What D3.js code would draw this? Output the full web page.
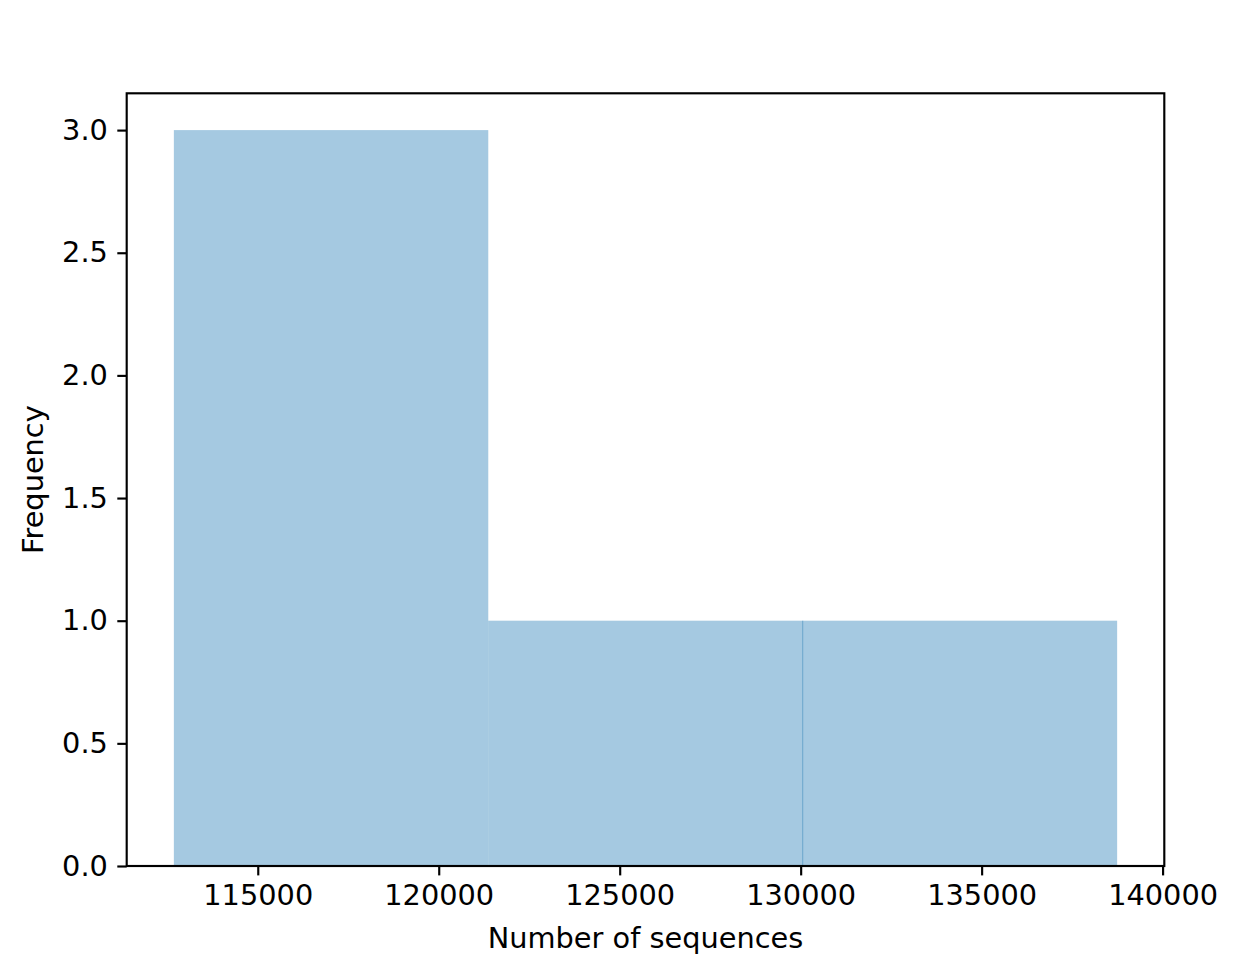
<!DOCTYPE html>
<html>
<head>
<meta charset="utf-8">
<script src="https://cdn.jsdelivr.net/npm/d3@7"></script>
<style>
  html, body { margin: 0; padding: 0; background: #fff; }
  svg text { font-family: "DejaVu Sans", sans-serif; fill: #000; }
</style>
</head>
<body>
<svg id="chart" width="1240" height="967"></svg>
<script>
// Histogram bin edges and counts
const binEdges = [112682, 121369, 130056, 138744];
const counts = [3, 1, 1];
const xTicks = [115000, 120000, 125000, 130000, 135000, 140000];
const yTicks = [0.0, 0.5, 1.0, 1.5, 2.0, 2.5, 3.0];
const xLabel = "Number of sequences";
const yLabel = "Frequency";

const svg = d3.select("#chart");
const L = 126.7, R = 1164.3, T = 93.3, B = 866;
const lw = 2.15, tickLen = 9.4, pad = 9.4, fs = 28.8;

const x = d3.scaleLinear().domain([111379, 140047]).range([L, R]);
const y = d3.scaleLinear().domain([0, 3.15]).range([B, T]);

const bins = counts.map((c, i) => ({ x0: binEdges[i], x1: binEdges[i + 1], c }));

svg.append("g").selectAll("rect").data(bins).join("rect")
  .attr("x", d => x(d.x0))
  .attr("width", d => x(d.x1) - x(d.x0))
  .attr("y", d => y(d.c))
  .attr("height", d => y(0) - y(d.c))
  .attr("fill", "#1f77b4")
  .attr("fill-opacity", 0.4);

// faint seam between equal-height adjacent bars
const seams = bins.slice(1).filter((d, i) => d.c === bins[i].c);
svg.append("g").selectAll("line").data(seams).join("line")
  .attr("x1", d => x(d.x0)).attr("x2", d => x(d.x0))
  .attr("y1", d => y(d.c)).attr("y2", y(0))
  .attr("stroke", "#1f77b4").attr("stroke-opacity", 0.45).attr("stroke-width", 1);

// X axis
const xAxis = d3.axisBottom(x).tickValues(xTicks).tickFormat(d3.format("d"))
  .tickSize(tickLen).tickPadding(pad);
const gx = svg.append("g").attr("transform", `translate(0,${B})`).call(xAxis);
gx.select(".domain").remove();
gx.selectAll(".tick line").attr("stroke", "#000").attr("stroke-width", lw);
gx.selectAll(".tick text").attr("font-size", fs).attr("font-family", "DejaVu Sans").attr("fill", "#000");

// Y axis
const yAxis = d3.axisLeft(y).tickValues(yTicks).tickFormat(d3.format(".1f"))
  .tickSize(tickLen).tickPadding(pad);
const gy = svg.append("g").attr("transform", `translate(${L},0)`).call(yAxis);
gy.select(".domain").remove();
gy.selectAll(".tick line").attr("stroke", "#000").attr("stroke-width", lw);
gy.selectAll(".tick text").attr("font-size", fs).attr("font-family", "DejaVu Sans").attr("fill", "#000");

// Frame
svg.append("rect")
  .attr("x", L).attr("y", T).attr("width", R - L).attr("height", B - T)
  .attr("fill", "none").attr("stroke", "#000").attr("stroke-width", lw);

// Labels
svg.append("text").attr("x", (L + R) / 2).attr("y", 948)
  .attr("text-anchor", "middle").attr("font-size", fs).text(xLabel);
svg.append("text").attr("transform", `translate(43,${(T + B) / 2}) rotate(-90)`)
  .attr("text-anchor", "middle").attr("font-size", fs).text(yLabel);
</script>
</body>
</html>
